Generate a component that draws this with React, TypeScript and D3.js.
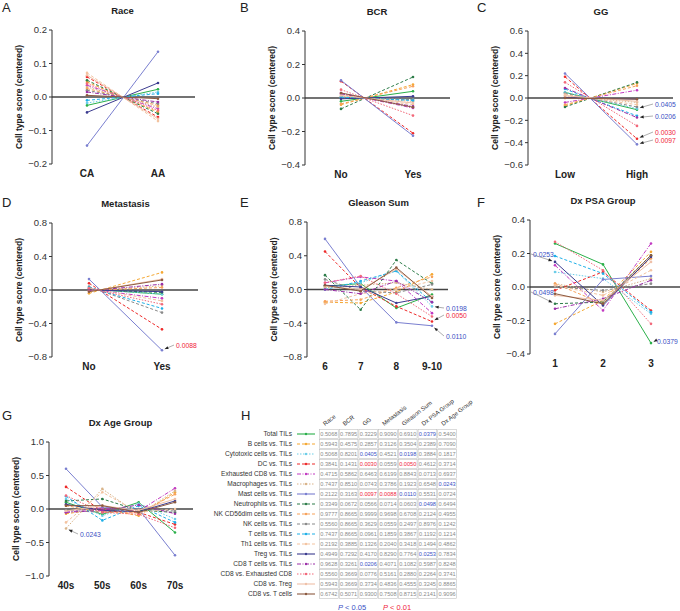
import React from "react";
import * as d3 from "d3";

const SERIES = [
  "Total TILs", "B cells vs. TILs", "Cytotoxic cells vs. TILs", "DC vs. TILs",
  "Exhausted CD8 vs. TILs", "Macrophages vs. TILs", "Mast cells vs. TILs",
  "Neutrophils vs. TILs", "NK CD56dim cells vs. TILs", "NK cells vs. TILs",
  "T cells vs. TILs", "Th1 cells vs. TILs", "Treg vs. TILs", "CD8 T cells vs. TILs",
  "CD8 vs. Exhausted CD8", "CD8 vs. Treg", "CD8 vs. T cells",
];
const COLORS = [
  "#2bb04a", "#f5a833", "#6ccde8", "#ee2a2a", "#c23bc2", "#d9b48a", "#7a7fd0",
  "#2e7d4a", "#f7a15a", "#8a8a8a", "#1fb0e8", "#f3c3a0", "#3b3b8f", "#9b30a8",
  "#f2687a", "#efc0a8", "#8c5a40",
];
const DASHES = [
  "", "3,2", "1.5,1.5", "3,2", "4,1.5,1,1.5", "1.5,1.5", "", "3,2", "3,2", "3,2",
  "3,2", "3,2", "", "4,1.5,1,1.5", "1.5,1.5", "", "",
];

// Panel A: Race
const raceCats = ["CA", "AA"];
const raceValues = [
  [-0.025, 0.023], [0.045, -0.045], [-0.018, 0.015], [0.06, -0.06], [0.035, -0.035],
  [0.03, -0.03], [-0.145, 0.135], [0.05, -0.05], [0.025, -0.025], [0.02, -0.02],
  [-0.01, 0.01], [0.072, -0.072], [-0.046, 0.042], [0.015, -0.015], [0.04, -0.04],
  [0.065, -0.065], [0.005, -0.005],
];
// Panel B: BCR
const bcrCats = ["No", "Yes"];
const bcrValues = [
  [-0.02, 0.04], [-0.04, 0.08], [0.0, -0.01], [0.1, -0.21], [0.03, -0.06],
  [0.01, -0.02], [0.105, -0.225], [-0.065, 0.125], [-0.035, 0.07], [0.005, -0.01],
  [0.005, -0.015], [0.02, -0.04], [-0.005, 0.01], [0.025, -0.05], [0.05, -0.105],
  [0.015, -0.03], [0.03, -0.055],
];
// Panel C: GG
const ggCats = ["Low", "High"];
const ggValues = [
  [0.05, -0.105], [-0.07, 0.13], [0.05, -0.095], [0.19, -0.365], [-0.04, 0.07],
  [0.02, -0.04], [0.22, -0.415], [-0.08, 0.14], [-0.06, 0.11], [0.04, -0.08],
  [0.08, -0.16], [0.03, -0.06], [0.005, -0.01], [0.09, -0.175], [0.14, -0.25],
  [0.02, -0.03], [0.0, -0.01],
];
// Panel D: Metastasis
const metCats = ["No", "Yes"];
const metValues = [
  [0.01, -0.05], [-0.04, 0.21], [0.01, -0.05], [0.08, -0.47], [0.01, -0.1],
  [-0.01, 0.05], [0.13, -0.72], [0.005, -0.03], [-0.005, 0.03], [0.04, -0.27],
  [0.03, -0.22], [0.02, -0.13], [0.0, -0.02], [-0.01, 0.07], [0.02, -0.17],
  [-0.02, 0.13], [-0.02, 0.12],
];
// Panel E: Gleason Sum
const gsCats = ["6", "7", "8", "9-10"];
const gsValues = [
  [0.04, 0.07, -0.22, -0.06], [-0.15, -0.16, -0.03, 0.18], [0.02, 0.08, 0.22, -0.2],
  [0.45, 0.02, -0.2, -0.38], [0.08, 0.15, 0.1, -0.28], [0.02, 0.05, 0.08, 0.0],
  [0.6, 0.03, -0.39, -0.43], [0.17, -0.24, 0.35, 0.07], [-0.14, -0.12, 0.02, 0.15],
  [0.12, -0.02, -0.04, 0.06], [0.0, 0.1, 0.22, -0.15], [-0.17, -0.05, 0.0, 0.1],
  [0.05, 0.03, -0.16, -0.08], [0.0, -0.05, 0.1, -0.15], [0.08, 0.16, -0.05, -0.32],
  [0.04, 0.0, 0.24, -0.08], [0.05, -0.02, 0.26, -0.1],
];
// Panel F: Dx PSA Group
const psaCats = ["1", "2", "3"];
const psaValues = [
  [0.26, 0.135, -0.335], [-0.22, -0.08, 0.21], [0.09, 0.05, -0.16], [-0.02, 0.09, -0.14],
  [0.13, -0.14, 0.26], [0.02, -0.03, 0.05], [-0.28, 0.045, 0.065], [-0.1, -0.09, 0.19],
  [0.02, -0.1, 0.17], [0.0, -0.02, 0.02], [0.185, 0.08, -0.15], [0.01, -0.05, 0.1],
  [0.15, -0.11, 0.18], [-0.13, -0.07, 0.04], [0.27, 0.1, -0.22], [-0.05, -0.08, 0.15],
  [-0.04, -0.1, 0.19],
];
// Panel G: Dx Age Group
const ageCats = ["40s", "50s", "60s", "70s"];
const ageValues = [
  [0.1, -0.08, 0.1, -0.35], [-0.07, 0.0, -0.1, 0.25], [0.15, -0.1, 0.08, -0.15],
  [0.33, -0.03, -0.05, -0.23], [-0.05, 0.02, -0.03, 0.31], [-0.29, 0.3, -0.08, 0.27],
  [0.6, 0.03, 0.0, -0.69], [0.12, 0.15, -0.02, -0.05], [0.05, -0.05, -0.06, 0.22],
  [-0.02, -0.05, 0.0, -0.03], [0.19, -0.17, 0.05, -0.2], [-0.2, 0.25, -0.05, 0.0],
  [0.07, -0.02, -0.04, 0.12], [-0.05, -0.02, 0.06, -0.07], [0.2, -0.05, -0.08, -0.28],
  [-0.03, 0.05, -0.02, 0.15], [0.05, 0.05, -0.05, 0.1],
];

// Table H
const tableCols = ["Race", "BCR", "GG", "Metastasis", "Gleason Sum", "Dx PSA Group", "Dx Age Group"];
const tableValues = [
  ["0.5068", "0.7895", "0.3229", "0.9090", "0.6910", "0.0379", "0.5400"],
  ["0.5943", "0.4575", "0.2857", "0.3126", "0.3504", "0.2389", "0.7090"],
  ["0.5068", "0.8201", "0.0405", "0.4521", "0.0198", "0.3884", "0.1817"],
  ["0.3841", "0.1431", "0.0030", "0.0559", "0.0050", "0.4612", "0.3714"],
  ["0.4715", "0.5862", "0.6463", "0.6199", "0.8843", "0.0713", "0.6937"],
  ["0.7437", "0.8510", "0.0743", "0.3786", "0.1923", "0.6548", "0.0243"],
  ["0.2122", "0.3163", "0.0097", "0.0088", "0.0110", "0.5531", "0.0724"],
  ["0.3349", "0.0672", "0.0566", "0.0714", "0.0603", "0.0498", "0.6494"],
  ["0.9777", "0.8665", "0.9999", "0.9698", "0.6708", "0.2124", "0.4955"],
  ["0.5560", "0.8665", "0.3629", "0.0559", "0.2497", "0.8976", "0.1242"],
  ["0.7437", "0.8665", "0.0961", "0.1859", "0.3867", "0.1192", "0.1214"],
  ["0.2192", "0.3885", "0.1326", "0.2040", "0.3418", "0.1494", "0.4862"],
  ["0.4949", "0.7292", "0.4170", "0.8290", "0.7764", "0.0253", "0.7834"],
  ["0.9628", "0.3261", "0.0206", "0.4071", "0.1082", "0.5987", "0.8248"],
  ["0.5560", "0.3669", "0.0776", "0.5161", "0.2880", "0.2264", "0.3741"],
  ["0.5943", "0.3669", "0.3734", "0.4836", "0.4555", "0.3245", "0.8865"],
  ["0.6742", "0.5071", "0.9300", "0.7508", "0.8715", "0.2141", "0.9096"],
];

const BLUE = "#3a4fc4";
const RED = "#f0243a";
const FONT = "'Liberation Sans', Arial, Helvetica, sans-serif";

type Ann = { series: number; cat: number; text: string; color: string; tx: number; ty: number };

type PanelCfg = {
  letter: string; lx: number; ly: number; title: string; cats: string[]; values: number[][];
  domain: [number, number]; ticks: number[]; fmt: string; axisX: number; yTop: number; yBottom: number;
  catX0: number; catX1: number; zeroEnd: number; anns: Ann[];
};

const panels: PanelCfg[] = [
  { letter: "A", lx: 2, ly: 12, title: "Race", cats: raceCats, values: raceValues, domain: [-0.2, 0.2],
    ticks: [-0.2, -0.1, 0, 0.1, 0.2], fmt: ".1f", axisX: 52, yTop: 30, yBottom: 164, catX0: 87, catX1: 158, zeroEnd: 195, anns: [] },
  { letter: "B", lx: 240, ly: 12, title: "BCR", cats: bcrCats, values: bcrValues, domain: [-0.4, 0.4],
    ticks: [-0.4, -0.2, 0, 0.2, 0.4], fmt: ".1f", axisX: 305, yTop: 31, yBottom: 165, catX0: 341, catX1: 413, zeroEnd: 450, anns: [] },
  { letter: "C", lx: 477, ly: 12, title: "GG", cats: ggCats, values: ggValues, domain: [-0.6, 0.6],
    ticks: [-0.6, -0.4, -0.2, 0, 0.2, 0.4, 0.6], fmt: ".1f", axisX: 528, yTop: 31, yBottom: 165, catX0: 565, catX1: 637, zeroEnd: 673,
    anns: [
      { series: 2, cat: 1, text: "0.0405", color: BLUE, tx: 655, ty: 107 },
      { series: 13, cat: 1, text: "0.0206", color: BLUE, tx: 655, ty: 119 },
      { series: 3, cat: 1, text: "0.0030", color: RED, tx: 655, ty: 135 },
      { series: 6, cat: 1, text: "0.0097", color: RED, tx: 655, ty: 143 },
    ] },
  { letter: "D", lx: 2, ly: 207, title: "Metastasis", cats: metCats, values: metValues, domain: [-0.8, 0.8],
    ticks: [-0.8, -0.4, 0, 0.4, 0.8], fmt: ".1f", axisX: 52, yTop: 223, yBottom: 357, catX0: 89, catX1: 162, zeroEnd: 198,
    anns: [{ series: 6, cat: 1, text: "0.0088", color: RED, tx: 176, ty: 348 }] },
  { letter: "E", lx: 240, ly: 207, title: "Gleason Sum", cats: gsCats, values: gsValues, domain: [-0.8, 0.8],
    ticks: [-0.8, -0.4, 0, 0.4, 0.8], fmt: ".1f", axisX: 307, yTop: 222, yBottom: 357, catX0: 325, catX1: 432, zeroEnd: 448,
    anns: [
      { series: 2, cat: 3, text: "0.0198", color: BLUE, tx: 446, ty: 311 },
      { series: 3, cat: 3, text: "0.0050", color: RED, tx: 446, ty: 318 },
      { series: 6, cat: 3, text: "0.0110", color: BLUE, tx: 446, ty: 339 },
    ] },
  { letter: "F", lx: 477, ly: 207, title: "Dx PSA Group", cats: psaCats, values: psaValues, domain: [-0.4, 0.4],
    ticks: [-0.4, -0.2, 0, 0.2, 0.4], fmt: ".1f", axisX: 530, yTop: 220, yBottom: 354, catX0: 555, catX1: 651, zeroEnd: 680,
    anns: [
      { series: 12, cat: 0, text: "0.0253", color: BLUE, tx: 533, ty: 257 },
      { series: 7, cat: 0, text: "0.0498", color: BLUE, tx: 533, ty: 295 },
      { series: 0, cat: 2, text: "0.0379", color: BLUE, tx: 657, ty: 344 },
    ] },
  { letter: "G", lx: 2, ly: 420, title: "Dx Age Group", cats: ageCats, values: ageValues, domain: [-1.0, 1.0],
    ticks: [-1.0, -0.5, 0, 0.5, 1.0], fmt: ".1f", axisX: 49, yTop: 442, yBottom: 576, catX0: 66, catX1: 175, zeroEnd: 193,
    anns: [{ series: 5, cat: 0, text: "0.0243", color: BLUE, tx: 80, ty: 537 }] },
];

function Panel({ p }: { p: PanelCfg }) {
  const y = d3.scaleLinear().domain(p.domain).range([p.yBottom, p.yTop]);
  const x = d3.scalePoint<string>().domain(p.cats).range([p.catX0, p.catX1]);
  const line = d3.line<number>().x((_, i) => x(p.cats[i]) as number).y((v) => y(v));
  const midX = (p.catX0 + p.catX1) / 2;
  const fmt = d3.format(p.fmt);
  return (
    <g>
      <text x={p.lx} y={p.ly} fontSize={13} fontFamily={FONT} fill="#222">{p.letter}</text>
      <text x={midX} y={p.yTop - 16} fontSize={9.5} fontWeight="bold" textAnchor="middle" fontFamily={FONT} fill="#222">{p.title}</text>
      <line x1={p.axisX} x2={p.zeroEnd} y1={y(0)} y2={y(0)} stroke="#444" strokeWidth={1.3} />
      <line x1={p.axisX} x2={p.axisX} y1={p.yTop} y2={p.yBottom} stroke="#333" strokeWidth={1} />
      {p.ticks.map((t) => (
        <g key={t}>
          <line x1={p.axisX - 3} x2={p.axisX} y1={y(t)} y2={y(t)} stroke="#333" strokeWidth={1} />
          <text x={p.axisX - 5} y={y(t) + 3.3} fontSize={9.5} textAnchor="end" fontFamily={FONT} fill="#333">{fmt(t)}</text>
        </g>
      ))}
      <text transform={`translate(${p.axisX - 30},${(p.yTop + p.yBottom) / 2}) rotate(-90)`} fontSize={8.5} fontWeight="bold"
        textAnchor="middle" fontFamily={FONT} fill="#222">Cell type score (centered)</text>
      {p.cats.map((c) => (
        <text key={c} x={x(c)} y={p.yBottom + 13} fontSize={10} fontWeight="bold" textAnchor="middle" fontFamily={FONT} fill="#222">{c}</text>
      ))}
      {p.values.map((vals, si) => (
        <g key={si}>
          <path d={line(vals) as string} fill="none" stroke={COLORS[si]} strokeWidth={1}
            strokeDasharray={DASHES[si] || undefined} />
          {vals.map((v, ci) => (
            <circle key={ci} cx={x(p.cats[ci])} cy={y(v)} r={1.3} fill={COLORS[si]} />
          ))}
        </g>
      ))}
      {p.anns.map((a, i) => {
        const px = x(p.cats[a.cat]) as number;
        const py = y(p.values[a.series][a.cat]);
        const ax = a.tx - 2;
        const ay = a.ty - 3;
        const ang = Math.atan2(py - ay, px - ax);
        const ex = px - Math.cos(ang) * 3;
        const ey = py - Math.sin(ang) * 3;
        const h1 = ang + Math.PI - 0.4, h2 = ang + Math.PI + 0.4;
        return (
          <g key={i}>
            <line x1={ax} y1={ay} x2={ex} y2={ey} stroke="#777" strokeWidth={0.6} />
            <path d={`M${ex},${ey}L${ex + Math.cos(h1) * 4},${ey + Math.sin(h1) * 4}L${ex + Math.cos(h2) * 4},${ey + Math.sin(h2) * 4}Z`} fill="#222" />
            <text x={a.tx} y={a.ty} fontSize={6.8} fontFamily={FONT} fill={a.color}>{a.text}</text>
          </g>
        );
      })}
    </g>
  );
}

function Table() {
  const left = 319, top = 429, rowH = 10, nCols = tableCols.length;
  const x = d3.scaleBand<number>().domain(d3.range(nCols)).range([left, 457]);
  const yb = d3.scaleBand<number>().domain(d3.range(SERIES.length)).range([top, top + rowH * SERIES.length]);
  const colW = x.bandwidth();
  const colorFor = (v: string) => {
    const n = parseFloat(v);
    if (n < 0.01) return RED;
    if (n < 0.05) return BLUE;
    return "#8a8a8a";
  };
  return (
    <g fontFamily={FONT}>
      <text x={241} y={420} fontSize={13} fill="#222">H</text>
      {tableCols.map((c, i) => (
        <text key={c} transform={`translate(${(x(i) as number) + 6},${top - 3}) rotate(-38)`} fontSize={6} fill="#333">{c}</text>
      ))}
      {SERIES.map((s, r) => {
        const cy = (yb(r) as number) + rowH / 2;
        return (
          <g key={s}>
            <text x={292} y={cy + 2.3} fontSize={6.6} textAnchor="end" fill="#333">{s}</text>
            <line x1={297} x2={315} y1={cy} y2={cy} stroke={COLORS[r]} strokeWidth={1.1} strokeDasharray={DASHES[r] || undefined} />
            <circle cx={306} cy={cy} r={1.2} fill={COLORS[r]} />
            {tableValues[r].map((v, ci) => (
              <g key={ci}>
                <rect x={(x(ci) as number) + 0.5} y={(yb(r) as number) + 0.5} width={colW - 1} height={rowH - 1} fill="none" stroke="#b5b5b5" strokeWidth={0.5} />
                <text x={(x(ci) as number) + colW / 2} y={cy + 2} fontSize={5.6} textAnchor="middle" fill={colorFor(v)}>{v}</text>
              </g>
            ))}
          </g>
        );
      })}
      <text x={352} y={610} fontSize={7.5} textAnchor="middle" fill={BLUE}><tspan fontStyle="italic">P</tspan> &lt; 0.05</text>
      <text x={397} y={610} fontSize={7.5} textAnchor="middle" fill={RED}><tspan fontStyle="italic">P</tspan> &lt; 0.01</text>
    </g>
  );
}

export default function App() {
  return (
    <svg width={680} height={611} style={{ position: "absolute", left: 0, top: 0, background: "#fff" }}>
      <rect x={0} y={0} width={680} height={611} fill="#fff" />
      {panels.map((p) => <Panel key={p.letter} p={p} />)}
      <Table />
    </svg>
  );
}
